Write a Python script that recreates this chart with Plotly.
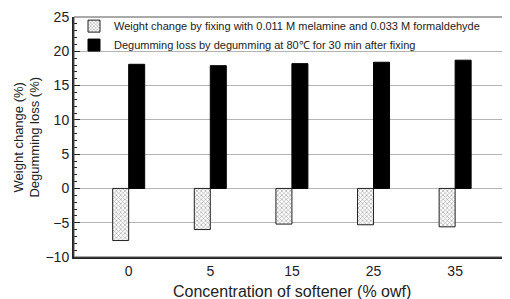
import plotly.graph_objects as go

categories = ["0", "5", "15", "25", "35"]
weight_change = [-7.6, -6.0, -5.2, -5.3, -5.6]
degumming_loss = [18.1, 17.9, 18.2, 18.4, 18.7]
y_ticks = [-10, -5, 0, 5, 10, 15, 20, 25]

FONT = "Liberation Sans, Arial, sans-serif"
xpos = list(range(len(categories)))
bw = 0.196

fig = go.Figure()
fig.add_trace(go.Bar(
    x=xpos, y=weight_change, width=bw, offset=-bw,
    name="Weight change by fixing with 0.011 M melamine and 0.033 M formaldehyde",
    marker=dict(color="white", line=dict(color="#222222", width=1),
                pattern=dict(shape="x", size=3, solidity=0.4, fgcolor="#555555", bgcolor="white")),
    legend="legend",
))
fig.add_trace(go.Bar(
    x=xpos, y=degumming_loss, width=bw, offset=0,
    name="Degumming loss by degumming at 80\u2103 for 30 min after fixing",
    marker=dict(color="black", line=dict(color="black", width=1)),
    legend="legend2",
))

leg_common = dict(x=0, xanchor="left", yanchor="middle", bgcolor="rgba(0,0,0,0)",
                  font=dict(size=11, family=FONT, color="#222222"))

fig.update_layout(
    width=502, height=291,
    margin=dict(l=66, r=1, t=9, b=42),
    paper_bgcolor="white", plot_bgcolor="white",
    font=dict(family=FONT, color="#222222"),
    barmode="overlay",
    showlegend=True,
    legend=dict(y=0.962, **leg_common),
    legend2=dict(y=0.883, **leg_common),
    xaxis=dict(range=[-0.67, 4.66], tickvals=xpos, ticktext=categories,
               showgrid=False, zeroline=False, showline=True, linecolor="#222222", linewidth=2,
               ticks="", tickfont=dict(size=14)),
    yaxis=dict(range=[-10, 25], tickvals=y_ticks, showgrid=True, gridcolor="#b4b4b4", gridwidth=1,
               zeroline=False, showline=True, linecolor="#222222", linewidth=2,
               ticks="inside", ticklen=6, tickwidth=1, tickcolor="#222222",
               minor=dict(dtick=1, ticks="inside", ticklen=3, tickcolor="#222222", showgrid=False),
               tickfont=dict(size=14)),
    shapes=[dict(type="rect", xref="paper", yref="paper", x0=0, x1=1, y0=0, y1=1,
                 line=dict(color="#555555", width=1), fillcolor="rgba(0,0,0,0)", layer="above")],
    annotations=[
        dict(text="Concentration of softener (% owf)", xref="paper", yref="paper",
             x=0.5, y=-0.142, xanchor="center", yanchor="middle", showarrow=False,
             font=dict(size=16, family=FONT)),
        dict(text="Weight change (%)<br>Degumming loss (%)", xref="paper", yref="paper",
             x=-0.109, y=0.5, xanchor="center", yanchor="middle", showarrow=False,
             textangle=-90, align="center", font=dict(size=13, family=FONT)),
    ],
)

fig.write_html("out.html")
